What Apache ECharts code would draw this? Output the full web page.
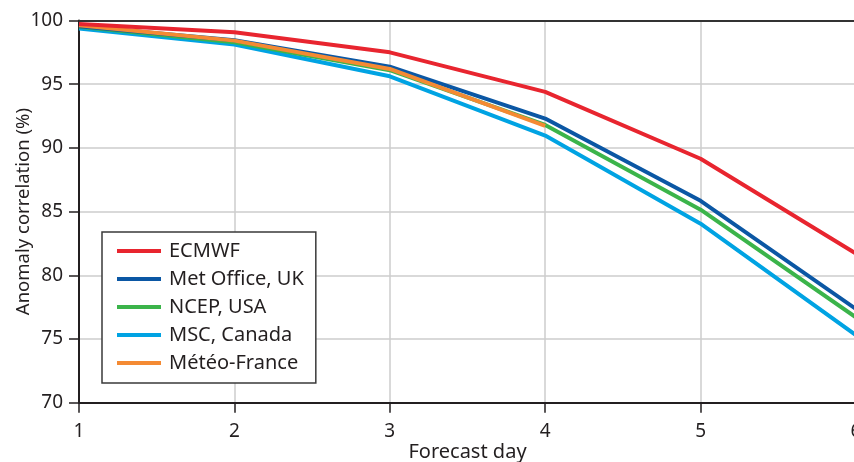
<!DOCTYPE html>
<html>
<head>
<meta charset="utf-8">
<script src="https://cdn.jsdelivr.net/npm/echarts@6/dist/echarts.min.js"></script>
<style>html,body{margin:0;padding:0;background:#fff}#c{width:854px;height:462px}</style>
</head>
<body>
<div id="c"></div>
<script>
const days = [1, 2, 3, 4, 5, 6];
const ecmwf = [99.73, 99.07, 97.5, 94.4, 89.15, 81.7];
const metOffice = [99.55, 98.45, 96.38, 92.3, 85.85, 77.35];
const ncep = [99.5, 98.3, 96.1, 91.8, 85.15, 76.7];
const msc = [99.38, 98.12, 95.62, 90.97, 84.05, 75.3];
const meteoFrance = [99.62, 98.42, 96.2, 91.72];
const yTicks = [70, 75, 80, 85, 90, 95, 100];

const names = ['ECMWF', 'Met Office, UK', 'NCEP, USA', 'MSC, Canada', 'Météo-France'];
const colors = {
  'ECMWF': '#e8252f',
  'Met Office, UK': '#0b57a4',
  'NCEP, USA': '#3bb44a',
  'MSC, Canada': '#00a3e3',
  'Météo-France': '#f48a33'
};
const dataMap = {
  'ECMWF': ecmwf,
  'Met Office, UK': metOffice,
  'NCEP, USA': ncep,
  'MSC, Canada': msc,
  'Météo-France': meteoFrance
};
const drawOrder = ['MSC, Canada', 'NCEP, USA', 'Met Office, UK', 'Météo-France', 'ECMWF'];
const FONT = 'Noto Sans';
const TXT = '#231f20';

const chart = echarts.init(document.getElementById('c'), null, {renderer: 'canvas'});
chart.setOption({
  animation: false,
  backgroundColor: '#fff',
  textStyle: {fontFamily: FONT, color: TXT},
  grid: {left: 79, right: -2, top: 20.5, bottom: 59.3, containLabel: false, outerBoundsMode: 'none'},
  legend: {
    data: names.map(n => ({name: n, icon: 'rect'})),
    orient: 'vertical',
    left: 102, top: 232,
    itemWidth: 44, itemHeight: 4, itemGap: 8,
    padding: [9, 12, 10, 15],
    backgroundColor: '#fff',
    borderColor: '#3a3a3a', borderWidth: 1.5,
    textStyle: {fontFamily: FONT, fontSize: 20, color: TXT, lineHeight: 20, padding: [0, 0, 0, 3]}
  },
  xAxis: [{
    type: 'value', min: 1, max: 6, interval: 1,
    name: 'Forecast day', nameLocation: 'middle', nameGap: 40, nameMoveOverlap: false,
    nameTextStyle: {fontFamily: FONT, fontSize: 20, color: TXT},
    axisLine: {show: true, onZero: false, lineStyle: {color: TXT, width: 2}},
    axisTick: {show: true, length: 10, lineStyle: {color: TXT, width: 1.5}},
    axisLabel: {fontFamily: FONT, fontSize: 19, color: TXT, margin: 19, showMaxLabel: true},
    splitLine: {show: true, lineStyle: {color: '#cccccc', width: 1.5}}
  }, {
    type: 'value', min: 1, max: 6, position: 'top',
    axisLine: {show: true, onZero: false, lineStyle: {color: '#333', width: 2}},
    axisTick: {show: false}, axisLabel: {show: false}, splitLine: {show: false}
  }],
  yAxis: {
    type: 'value', min: 70, max: 100, interval: 5,
    name: 'Anomaly correlation (%)', nameLocation: 'middle', nameGap: 46, nameRotate: 90, nameMoveOverlap: false,
    nameTextStyle: {fontFamily: FONT, fontSize: 18.5, color: TXT},
    axisLine: {show: true, onZero: false, lineStyle: {color: TXT, width: 2}},
    axisTick: {show: true, length: 10, lineStyle: {color: TXT, width: 1.5}},
    axisLabel: {fontFamily: FONT, fontSize: 19, color: TXT, margin: 16,
      formatter: v => yTicks.includes(v) ? String(v) : ''},
    splitLine: {show: true, lineStyle: {color: '#cccccc', width: 1.5}}
  },
  series: drawOrder.map(n => ({
    name: n, type: 'line', xAxisIndex: 0,
    data: dataMap[n].map((v, i) => [days[i], v]),
    showSymbol: false, symbol: 'none',
    itemStyle: {color: colors[n]},
    lineStyle: {color: colors[n], width: 4},
    clip: true
  }))
});
</script>
</body>
</html>
